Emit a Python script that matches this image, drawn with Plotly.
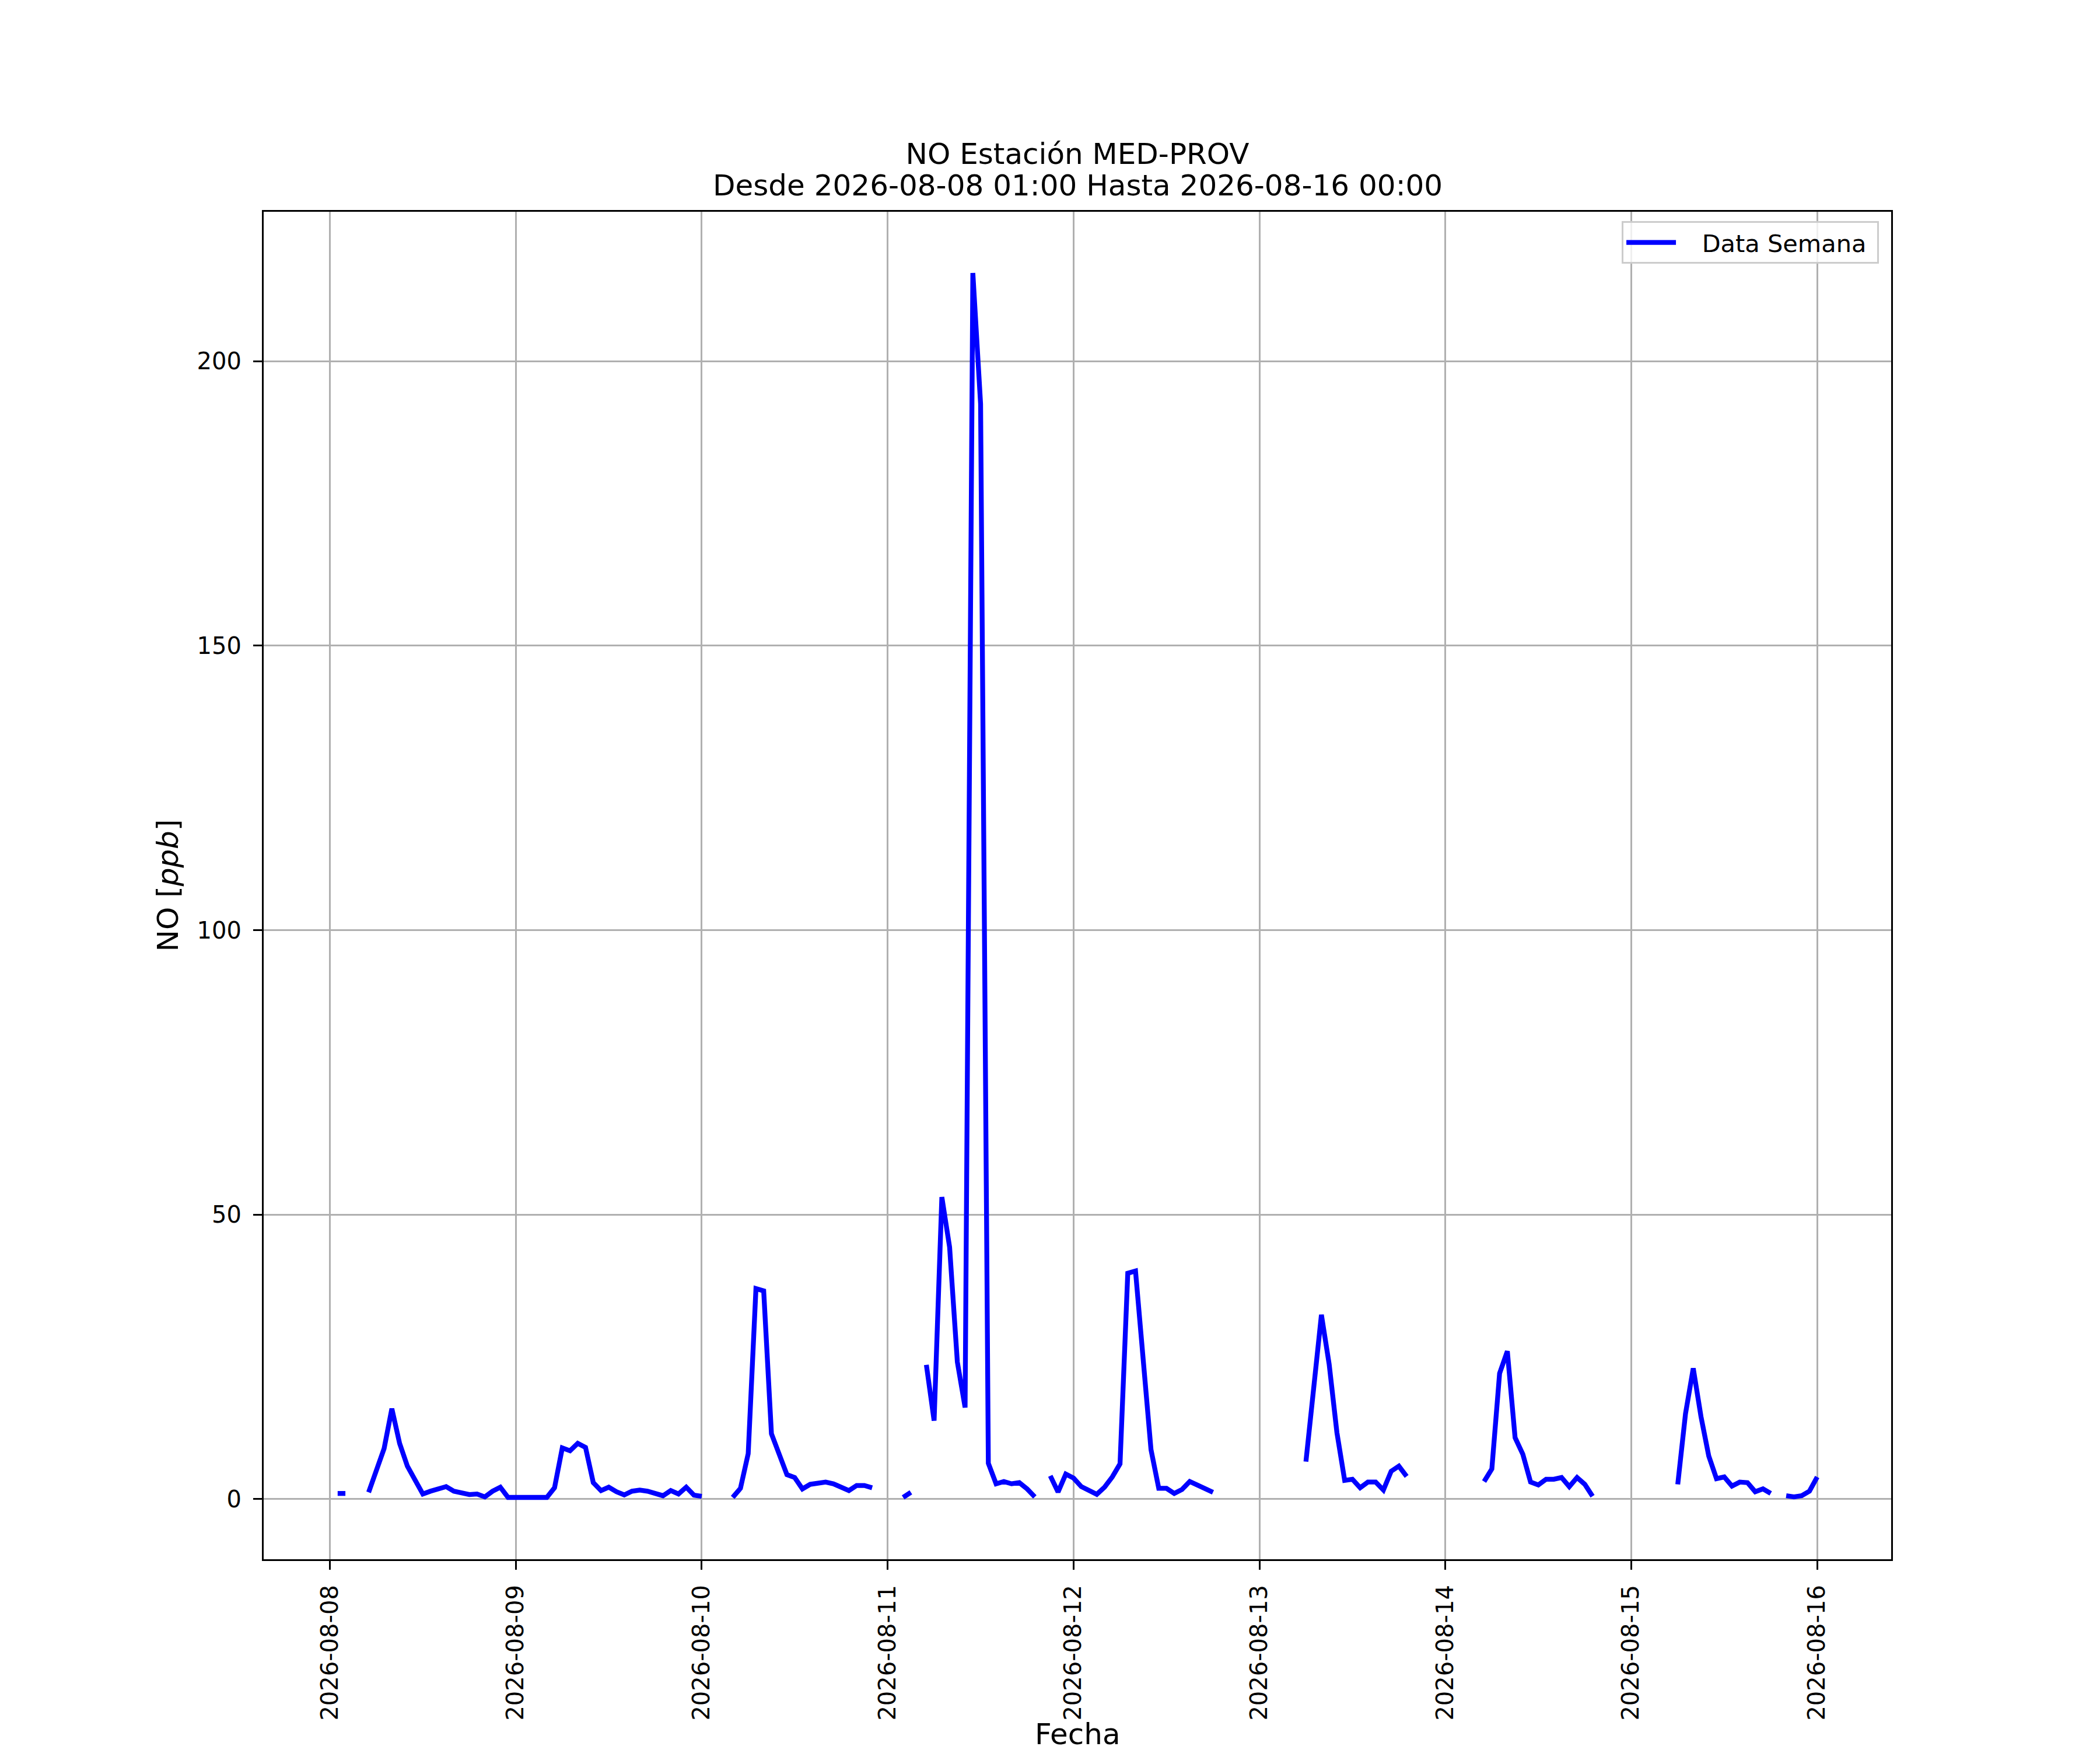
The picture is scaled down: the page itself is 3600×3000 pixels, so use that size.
import pandas as pd
import numpy as np
import plotly.graph_objects as go

# NO en ppb, una lectura por hora: de la 01:00 de cada dia a las 00:00 del siguiente
# (None = sin dato)
no_ago08 = [1.0, 1.0, None, None, 1.2, 5.1, 8.9, 15.9, 9.8, 5.8, 3.3, 0.9,
            1.4, 1.8, 2.2, 1.4, 1.0, 0.8, 0.9, 0.4, 1.4, 2.1, 0.3, 0.3]
no_ago09 = [0.2, 0.2, 0.2, 0.3, 2.0, 9.0, 8.5, 9.8, 9.1, 2.9, 1.5, 2.1,
            1.3, 0.75, 1.4, 1.6, 1.4, 1.1, 0.6, 1.5, 0.9, 2.1, 0.7, 0.5]
no_ago10 = [None, None, None, 0.3, 1.9, 8.0, 37.0, 36.6, 11.5, 7.9, 4.3, 3.8,
            1.8, 2.6, 2.7, 3.0, 2.7, 2.2, 1.5, 2.4, 2.4, 2.0, None, None]
no_ago11 = [None, 0.3, 1.2, None, 23.6, 13.8, 53.1, 44.3, 24.1, 16.1, 215.5, 192.5,
            6.3, 2.7, 3.1, 2.7, 2.9, 1.8, 0.4, None, 4.1, 1.25, 4.4, 3.7]
no_ago12 = [2.2, 1.5, 0.85, 2.1, 3.9, 6.2, 39.7, 40.1, 24.4, 8.7, 1.9, 1.9,
            1.0, 1.7, 3.1, 2.5, 1.9, 1.2, None, None, None, None, None, None]
no_ago13 = [None, None, None, None, None, 6.6, 18.9, 32.4, 23.7, 11.7, 3.3, 3.5,
            2.0, 3.0, 3.0, 1.6, 4.9, 5.8, 4.0, None, None, None, None, None]
no_ago14 = [None, None, None, None, 3.1, 5.3, 22.1, 26.0, 10.8, 7.9, 3.0, 2.5,
            3.5, 3.5, 3.8, 2.2, 3.8, 2.6, 0.5, None, None, None, None, None]
no_ago15 = [None, None, None, None, None, 2.6, 15.0, 23.0, 14.5, 7.6, 3.6, 3.9,
            2.3, 3.0, 2.9, 1.3, 1.8, 1.0, None, 0.6, 0.4, 0.6, 1.4, 3.9]

tick_dias = ["2026-08-08", "2026-08-09", "2026-08-10", "2026-08-11", "2026-08-12",
             "2026-08-13", "2026-08-14", "2026-08-15", "2026-08-16"]

titulo = "NO Estación MED-PROV"
subtitulo = "Desde 2026-08-08 01:00 Hasta 2026-08-16 00:00"

valores = no_ago08 + no_ago09 + no_ago10 + no_ago11 + no_ago12 + no_ago13 + no_ago14 + no_ago15
fechas = pd.date_range("2026-08-08 01:00", periods=len(valores), freq="h")

# margenes automaticos estilo matplotlib (5%)
dt = fechas[-1] - fechas[0]
x_rango = [fechas[0] - 0.05 * dt, fechas[-1] + 0.05 * dt]
v = np.array([x for x in valores if x is not None])
dy = v.max() - v.min()
y_rango = [v.min() - 0.05 * dy, v.max() + 0.05 * dy]

nb = "\u00a0"
fig = go.Figure()
fig.add_trace(go.Scatter(
    x=fechas, y=valores, mode="lines", name=nb * 3 + "Data Semana" + nb,
    line=dict(color="#0000ff", width=8.3), connectgaps=False,
))

fuente = "DejaVu Sans"
fig.update_layout(
    width=3600, height=3000,
    margin=dict(l=444, r=366, t=355, b=335),
    paper_bgcolor="white", plot_bgcolor="white",
    font=dict(family=fuente, size=40, color="black"),
    title=dict(
        text=titulo,
        x=0.5, xref="paper", xanchor="center",
        y=1 - 255 / 3000, yref="container", yanchor="middle",
        font=dict(family=fuente, size=50, color="black"),
    ),
    showlegend=True,
    legend=dict(
        x=0.9925, y=0.993, xanchor="right", yanchor="top",
        bgcolor="rgba(255,255,255,0.8)", bordercolor="#cccccc", borderwidth=3,
        font=dict(family=fuente, size=41.5, color="black"),
        itemwidth=85,
    ),
)
fig.add_annotation(
    text=subtitulo, xref="paper", yref="paper", x=0.5, y=1 + (355 - 310) / 2310,
    xanchor="center", yanchor="middle", showarrow=False,
    font=dict(family=fuente, size=50, color="black"),
)
# etiqueta del eje x, pegada al borde inferior como en el original
fig.add_annotation(
    text="Fecha", xref="paper", yref="paper", x=0.5, y=-(2996 - 2665) / 2310,
    xanchor="center", yanchor="bottom", showarrow=False,
    font=dict(family=fuente, size=50, color="black"),
)

fig.update_xaxes(
    range=x_rango,
    tickvals=pd.to_datetime(tick_dias), ticktext=tick_dias, tickangle=-90,
    ticks="outside", ticklen=15, tickwidth=3.3, tickcolor="black",
    ticklabelstandoff=10,
    showgrid=True, gridcolor="#b0b0b0", gridwidth=3.3,
    showline=True, mirror=True, linecolor="black", linewidth=3.3,
    zeroline=False, automargin=False,
)
fig.update_yaxes(
    range=y_rango,
    tickvals=[0, 50, 100, 150, 200],
    ticks="outside", ticklen=15, tickwidth=3.3, tickcolor="black",
    ticklabelstandoff=12,
    showgrid=True, gridcolor="#b0b0b0", gridwidth=3.3,
    showline=True, mirror=True, linecolor="black", linewidth=3.3,
    zeroline=False, automargin=False,
    title=dict(text="NO [<i>ppb</i>]", standoff=16, font=dict(family=fuente, size=50, color="black")),
)

fig.write_html("out.html")
